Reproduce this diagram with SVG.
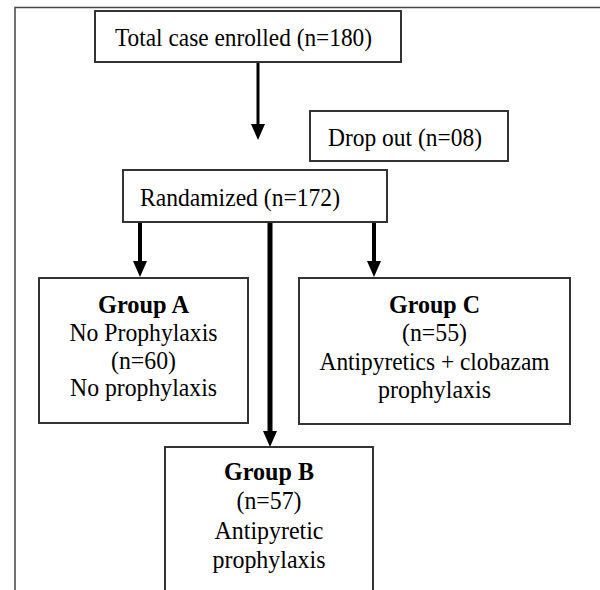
<svg xmlns="http://www.w3.org/2000/svg" width="600" height="590" viewBox="0 0 600 590">
<defs>
<marker id="ah" markerUnits="userSpaceOnUse" markerWidth="16" markerHeight="14" refX="0" refY="7" orient="auto" viewBox="0 0 16 14">
<path d="M0,0 L16,7 L0,14 z" fill="#000"/>
</marker>
</defs>
<style>
.box{fill:#fff;stroke:#333;stroke-width:2}
.t{font-family:"Liberation Serif","Times New Roman",serif;font-size:26px;fill:#000}
.b{font-weight:bold}
.c{text-anchor:middle}
.conn line{stroke:#000;marker-end:url(#ah)}
</style>
<rect width="600" height="590" fill="#fff"/>
<path d="M15,590 V7.5 H600" fill="none" stroke="#444" stroke-width="1.5"/>
<g id="connectors" class="conn">
<line x1="258" y1="62" x2="258" y2="124" stroke-width="3"/>
<line x1="140" y1="222" x2="140" y2="261" stroke-width="4"/>
<line x1="374" y1="222" x2="374" y2="261" stroke-width="4"/>
<line x1="270" y1="220" x2="270" y2="431" stroke-width="5"/>
</g>
<g id="total">
<rect class="box" x="95" y="11" width="306" height="51"/>
<text class="t" x="115" y="46" textLength="257" lengthAdjust="spacingAndGlyphs">Total case enrolled (n=180)</text>
</g>
<g id="dropout">
<rect class="box" x="310" y="111" width="198" height="50"/>
<text class="t" x="328" y="146" textLength="154" lengthAdjust="spacingAndGlyphs">Drop out (n=08)</text>
</g>
<g id="randomized">
<rect class="box" x="123" y="170" width="264" height="52"/>
<text class="t" x="140" y="206" textLength="200" lengthAdjust="spacingAndGlyphs">Randamized (n=172)</text>
</g>
<g id="groupA">
<rect class="box" x="39" y="278" width="209" height="145"/>
<text class="t b c" x="143.5" y="313" textLength="91" lengthAdjust="spacingAndGlyphs">Group A</text>
<text class="t c" x="143.5" y="341" textLength="148" lengthAdjust="spacingAndGlyphs">No Prophylaxis</text>
<text class="t c" x="143.5" y="369" textLength="65" lengthAdjust="spacingAndGlyphs">(n=60)</text>
<text class="t c" x="143.5" y="396" textLength="147" lengthAdjust="spacingAndGlyphs">No prophylaxis</text>
</g>
<g id="groupC">
<rect class="box" x="299" y="278" width="271" height="146"/>
<text class="t b c" x="434.5" y="313" textLength="91" lengthAdjust="spacingAndGlyphs">Group C</text>
<text class="t c" x="434.5" y="341" textLength="65" lengthAdjust="spacingAndGlyphs">(n=55)</text>
<text class="t c" x="434.5" y="370" textLength="230" lengthAdjust="spacingAndGlyphs">Antipyretics + clobazam</text>
<text class="t c" x="434.5" y="398" textLength="113" lengthAdjust="spacingAndGlyphs">prophylaxis</text>
</g>
<g id="groupB">
<rect class="box" x="165" y="447" width="208" height="150"/>
<text class="t b c" x="269" y="480" textLength="90" lengthAdjust="spacingAndGlyphs">Group B</text>
<text class="t c" x="269" y="509" textLength="65" lengthAdjust="spacingAndGlyphs">(n=57)</text>
<text class="t c" x="269" y="539" textLength="109" lengthAdjust="spacingAndGlyphs">Antipyretic</text>
<text class="t c" x="269" y="568" textLength="113" lengthAdjust="spacingAndGlyphs">prophylaxis</text>
</g>
</svg>
